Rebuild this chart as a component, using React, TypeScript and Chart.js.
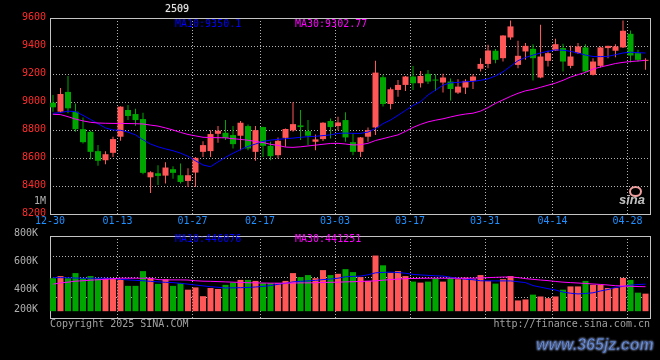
import React, { useEffect, useRef } from 'react';
import { Chart, registerables } from 'chart.js';

Chart.register(...registerables);

// ---------- data ----------
const dates = [
  '12-30', '12-31',
  '01-02', '01-03', '01-06', '01-07', '01-08', '01-09', '01-10', '01-13', '01-14', '01-15', '01-16', '01-17',
  '01-20', '01-21', '01-22', '01-23', '01-24', '01-27',
  '02-05', '02-06', '02-07', '02-10', '02-11', '02-12', '02-13', '02-14', '02-17', '02-18', '02-19', '02-20',
  '02-21', '02-24', '02-25', '02-26', '02-27', '02-28',
  '03-03', '03-04', '03-05', '03-06', '03-07', '03-10', '03-11', '03-12', '03-13', '03-14', '03-17', '03-18',
  '03-19', '03-20', '03-21', '03-24', '03-25', '03-26', '03-27', '03-28', '03-31',
  '04-01', '04-02', '04-03', '04-07', '04-08', '04-09', '04-10', '04-11', '04-14', '04-15', '04-16', '04-17',
  '04-18', '04-21', '04-22', '04-23', '04-24', '04-25', '04-28', '04-29', '04-30',
];

const axisDates = ['12-30', '01-13', '01-27', '02-17', '03-03', '03-17', '03-31', '04-14', '04-28'];

const opens = [
  8995, 8931, 9072, 8931, 8806, 8787, 8649, 8584, 8637, 8752,
  8943, 8914, 8878, 8462, 8491, 8474, 8520, 8477, 8436, 8496,
  8644, 8649, 8773, 8780, 8764, 8759, 8828, 8644, 8821, 8687,
  8620, 8744, 8797, 8833, 8792, 8716, 8735, 8864, 8828, 8871,
  8713, 8644, 8752, 8818, 9177, 8986, 9086, 9122, 9182, 9134,
  9201, 9158, 9139, 9146, 9067, 9103, 9151, 9237, 9272, 9366,
  9313, 9461, 9265, 9361, 9380, 9175, 9294, 9366, 9385, 9258,
  9349, 9390, 9194, 9258, 9385, 9366, 9390, 9487, 9349, 9294,
];
const highs = [
  9050, 9100, 9186, 8990, 8890, 8794, 8692, 8649, 8752, 8970,
  8978, 8952, 8924, 8505, 8548, 8570, 8541, 8560, 8527, 8608,
  8720, 8799, 8828, 8871, 8828, 8864, 8840, 8828, 8823, 8716,
  8747, 8811, 8998, 8943, 8871, 8768, 8855, 8883, 8895, 8926,
  8775, 8750, 8818, 9294, 9194, 9103, 9158, 9186, 9258, 9222,
  9229, 9198, 9201, 9167, 9163, 9163, 9198, 9313, 9409, 9378,
  9476, 9583, 9437, 9421, 9413, 9552, 9366, 9452, 9416, 9401,
  9421, 9413, 9313, 9397, 9401, 9413, 9583, 9511, 9373, 9313,
];
const lows = [
  8930, 8925, 8919, 8787, 8704, 8591, 8544, 8556, 8608, 8723,
  8871, 8830, 8484, 8350, 8408, 8417, 8451, 8417, 8393, 8393,
  8608, 8608, 8709, 8728, 8668, 8656, 8656, 8580, 8608, 8584,
  8596, 8680, 8787, 8728, 8692, 8656, 8721, 8740, 8799, 8716,
  8620, 8608, 8716, 8764, 8967, 8948, 9038, 9079, 9086, 9103,
  9129, 9079, 9067, 9010, 9057, 9057, 9093, 9217, 9241, 9277,
  9289, 9444, 9241, 9301, 9153, 9170, 9253, 9365, 9218, 9241,
  9342, 9213, 9189, 9246, 9313, 9320, 9385, 9282, 9289, 9230,
];
const closes = [
  8962, 9057, 8955, 8806, 8713, 8644, 8580, 8627, 8735, 8967,
  8900, 8871, 8494, 8498, 8472, 8532, 8494, 8429, 8477, 8601,
  8692, 8771, 8795, 8744, 8699, 8852, 8668, 8799, 8687, 8613,
  8723, 8807, 8842, 8821, 8759, 8733, 8852, 8821, 8854, 8747,
  8644, 8747, 8799, 9210, 8986, 9091, 9122, 9182, 9134, 9186,
  9146, 9153, 9175, 9093, 9110, 9151, 9182, 9272, 9368, 9301,
  9475, 9540, 9330, 9401, 9313, 9325, 9349, 9413, 9289, 9325,
  9397, 9218, 9289, 9390, 9401, 9397, 9509, 9332, 9301, 9301,
];

const ma10 = [
  8919, 8924, 8935, 8931, 8905, 8875, 8845, 8815, 8800, 8798,
  8785, 8765, 8730, 8700, 8680, 8665, 8652, 8635, 8612, 8580,
  8550, 8538, 8572, 8605, 8634, 8660, 8683, 8700, 8718, 8728,
  8733, 8738, 8742, 8748, 8752, 8755, 8760, 8765, 8776, 8778,
  8776, 8776, 8785, 8810, 8845, 8871, 8905, 8940, 8975, 9002,
  9050, 9085, 9120, 9137, 9140, 9145, 9147, 9155, 9165, 9186,
  9215, 9255, 9295, 9318, 9335, 9350, 9362, 9372, 9370, 9362,
  9350, 9335, 9325, 9324, 9326, 9338, 9350, 9356, 9352, 9350,
];
const ma30 = [
  8912, 8910, 8895, 8878, 8865, 8855, 8850, 8848, 8847, 8847,
  8846, 8845, 8843, 8835, 8828, 8815, 8800, 8783, 8768, 8758,
  8748, 8746, 8745, 8744, 8738, 8733, 8727, 8718, 8710, 8698,
  8690, 8678, 8676, 8680, 8686, 8692, 8698, 8704, 8705, 8700,
  8693, 8695, 8705, 8725, 8738, 8752, 8765, 8790, 8818, 8840,
  8858, 8870, 8880, 8893, 8905, 8914, 8920, 8935, 8960, 8990,
  9015, 9040, 9062, 9080, 9090, 9105, 9120, 9135, 9155, 9178,
  9195, 9212, 9235, 9250, 9262, 9275, 9283, 9289, 9293, 9297,
];

// volume in thousands
const volumesK = [
  488, 503, 488, 524, 488, 503, 488, 488, 488, 481,
  434, 434, 538, 488, 448, 481, 434, 453, 407, 423,
  361, 419, 412, 441, 457, 476, 476, 469, 453, 453,
  453, 469, 524, 496, 510, 488, 545, 510, 519, 552,
  531, 496, 469, 648, 579, 526, 538, 503, 464, 457,
  464, 488, 464, 492, 481, 492, 481, 510, 469, 450,
  481, 503, 331, 338, 372, 359, 347, 359, 407, 430,
  430, 469, 441, 441, 419, 419, 490, 476, 386, 379,
];
const volMa10K = [
  492, 492, 491, 489, 488, 488, 488, 488, 486, 480,
  476, 473, 470, 466, 462, 459, 457, 452, 446, 440,
  434, 428, 424, 419, 420, 421, 423, 426, 430, 436,
  445, 452, 462, 466, 469, 473, 478, 482, 488, 498,
  501, 503, 512, 526, 529, 531, 528, 523, 515, 511,
  508, 505, 503, 495, 487, 481, 477, 470, 469, 469,
  469, 469, 463, 457, 436, 425, 414, 405, 390, 382,
  377, 380, 385, 398, 408, 423, 430, 439, 443, 446,
];
const volMa30K = [
  446, 455, 460, 467, 470, 474, 477, 480, 484, 488,
  488, 488, 488, 488, 478, 476, 476, 476, 475, 470,
  467, 466, 464, 462, 460, 458, 456, 455, 454, 453,
  453, 453, 454, 455, 455, 456, 458, 459, 460, 462,
  463, 465, 467, 469, 474, 478, 482, 485, 486, 487,
  488, 488, 488, 488, 488, 488, 488, 490, 492, 494,
  496, 497, 492, 485, 480, 475, 471, 465, 460, 457,
  454, 451, 447, 444, 440, 435, 433, 431, 429, 428,
];

const priceTicks = [8200, 8400, 8600, 8800, 9000, 9200, 9400, 9600];
const volTicksK = [200, 400, 600, 800];
const volTickLabels = ['200K', '400K', '600K', '800K'];

const titleText = '2509';
const priceLegend = ['MA10:9350.1', 'MA30:9302.77'];
const volLegend = ['MA10:446076', 'MA30:441251'];
const unitText = '1M';
const copyrightText = 'Copyright 2025 SINA.COM';
const urlText = 'http://finance.sina.com.cn';
const watermarkText = 'www.365jz.com';

// ---------- styling ----------
const UP = '#ff5757';
const DOWN = '#00a600';
const MA10_COLOR = '#0000ff';
const MA30_COLOR = '#ff00ff';
const GRID = '#b4b4b4';
const FRAME = '#c4c4c4';
const MONO = '"DejaVu Sans Mono", monospace';

const X_MIN = 0;
const X_MAX = 80;
const BAR_POS = 0.4;
const P_MIN = 8200;
const P_MAX = 9600;
const V_MIN = 207;
const V_MAX = 786;
const V_BASE = 255;
const VOL_LABEL_FLOOR = 0.095;

const axisIdx = axisDates.map((d) => dates.indexOf(d));
const axisTickValues = axisIdx.map((i) => Math.min(i, X_MAX - 2));
const candleColors = closes.map((c, i) => (c >= opens[i] ? UP : DOWN));

const framePlugin = {
  id: 'frame',
  beforeDatasetsDraw(chart: any) {
    const { ctx, chartArea: a } = chart;
    ctx.save();
    ctx.strokeStyle = FRAME;
    ctx.lineWidth = 1;
    ctx.setLineDash([]);
    ctx.strokeRect(
      Math.round(a.left) + 0.5,
      Math.round(a.top) + 0.5,
      Math.round(a.right - a.left),
      Math.round(a.bottom - a.top)
    );
    ctx.restore();
  },
};

function xScale(showLabels: boolean) {
  return {
    type: 'linear',
    min: X_MIN,
    max: X_MAX,
    offset: false,
    afterBuildTicks: (s: any) => {
      s.ticks = axisTickValues.map((v) => ({ value: v }));
    },
    afterFit: (s: any) => {
      s.height = showLabels ? 14 : 0;
    },
    grid: {
      offset: false,
      drawTicks: false,
      lineWidth: 1,
      color: (ctx: any) =>
        axisTickValues[ctx.index] === axisIdx[ctx.index] ? GRID : 'rgba(0,0,0,0)',
    },
    border: { display: false, dash: [1, 2] },
    ticks: {
      display: showLabels,
      autoSkip: false,
      maxRotation: 0,
      minRotation: 0,
      padding: 1,
      color: '#1e90ff',
      font: { family: MONO, size: 10 },
      callback: (_v: any, i: number) => axisDates[i],
    },
  };
}

const lineDs = (values: number[], color: string, axis?: string) => ({
  type: 'line',
  data: values.map((v, i) => ({ x: i + BAR_POS, y: v })),
  borderColor: color,
  borderWidth: 1,
  pointRadius: 0,
  tension: 0,
  fill: false,
  order: 0,
  ...(axis ? { yAxisID: axis } : {}),
});

export default function App() {
  const priceRef = useRef<HTMLCanvasElement>(null);
  const volRef = useRef<HTMLCanvasElement>(null);

  useEffect(() => {
    const price = new Chart(priceRef.current as HTMLCanvasElement, {
      type: 'bar',
      data: {
        datasets: [
          {
            type: 'bar',
            data: dates.map((_, i) => ({ x: i + BAR_POS, y: [lows[i], highs[i]] })),
            backgroundColor: candleColors,
            barThickness: 1,
            grouped: false,
            inflateAmount: 0,
            order: 2,
          },
          {
            type: 'bar',
            data: dates.map((_, i) => ({ x: i + BAR_POS, y: [opens[i], closes[i]] })),
            backgroundColor: candleColors,
            barThickness: 6,
            minBarLength: 1,
            grouped: false,
            inflateAmount: 0,
            order: 1,
          },
          lineDs(ma30, MA30_COLOR),
          lineDs(ma10, MA10_COLOR),
        ] as any,
      },
      options: {
        responsive: false,
        animation: false,
        devicePixelRatio: 1,
        layout: { padding: { top: 18, right: 10, left: 0, bottom: 0 } },
        plugins: { legend: { display: false }, tooltip: { enabled: false } },
        scales: {
          x: xScale(true) as any,
          y: {
            type: 'linear',
            position: 'left',
            min: P_MIN,
            max: P_MAX,
            afterBuildTicks: (s: any) => {
              s.ticks = priceTicks.map((v) => ({ value: v }));
            },
            afterFit: (s: any) => {
              s.width = 50;
            },
            grid: { drawTicks: false, color: GRID, lineWidth: 1 },
            border: { display: false, dash: [1, 2] },
            ticks: {
              color: '#ff2c2c',
              font: { family: MONO, size: 10 },
              padding: 4,
              labelOffset: -1,
              autoSkip: false,
              callback: (v: any) => String(v),
            },
          } as any,
        },
      },
      plugins: [framePlugin],
    });

    const vol = new Chart(volRef.current as HTMLCanvasElement, {
      type: 'bar',
      data: {
        datasets: [
          {
            type: 'bar',
            data: dates.map((_, i) => ({ x: i + BAR_POS, y: volumesK[i] })),
            base: V_BASE,
            backgroundColor: candleColors,
            barThickness: 6,
            grouped: false,
            inflateAmount: 0,
            yAxisID: 'y',
            order: 1,
          },
          lineDs(volMa30K, MA30_COLOR, 'y'),
          lineDs(volMa10K, MA10_COLOR, 'y'),
        ] as any,
      },
      options: {
        responsive: false,
        animation: false,
        devicePixelRatio: 1,
        layout: { padding: { top: 8, right: 10, left: 0, bottom: 42 } },
        plugins: { legend: { display: false }, tooltip: { enabled: false } },
        scales: {
          x: xScale(false) as any,
          y: {
            type: 'linear',
            position: 'left',
            min: V_MIN,
            max: V_MAX,
            afterBuildTicks: (s: any) => {
              const floor = V_MIN + (V_MAX - V_MIN) * VOL_LABEL_FLOOR;
              s.ticks = volTicksK.map((v) => ({ value: Math.max(v, floor) }));
            },
            afterFit: (s: any) => {
              s.width = 50;
            },
            grid: { display: false },
            border: { display: false },
            ticks: {
              color: '#b0b0b0',
              font: { family: MONO, size: 10 },
              padding: 4,
              labelOffset: -1,
              autoSkip: false,
              callback: (_v: any, i: number) => volTickLabels[i],
            },
          } as any,
          yg: {
            type: 'linear',
            position: 'right',
            min: V_MIN,
            max: V_MAX,
            afterBuildTicks: (s: any) => {
              s.ticks = [0, 1, 2, 3, 4].map((k) => ({ value: V_MIN + ((V_MAX - V_MIN) * k) / 4 }));
            },
            afterFit: (s: any) => {
              s.width = 0;
            },
            grid: { drawTicks: false, color: GRID, lineWidth: 1 },
            border: { display: false, dash: [1, 2] },
            ticks: { display: false },
          } as any,
        },
      },
      plugins: [framePlugin],
    });

    return () => {
      price.destroy();
      vol.destroy();
    };
  }, []);

  const txt = (left: number, top: number, color: string): React.CSSProperties => ({
    position: 'absolute',
    left,
    top,
    color,
    font: `10px ${MONO}`,
    lineHeight: '10px',
    whiteSpace: 'pre',
  });

  return (
    <div
      style={{
        position: 'fixed',
        left: 0,
        top: 0,
        width: 660,
        height: 360,
        background: '#000',
        overflow: 'hidden',
      }}
    >
      <canvas
        ref={priceRef}
        width={660}
        height={228}
        style={{ position: 'absolute', left: 0, top: 0 }}
      />
      <canvas
        ref={volRef}
        width={660}
        height={134}
        style={{ position: 'absolute', left: 0, top: 226 }}
      />
      <span style={{ ...txt(165, 4, '#e6e6e6'), textShadow: '0 0 1px #808080' }}>{titleText}</span>
      <span style={txt(175, 19, MA10_COLOR)}>{priceLegend[0]}</span>
      <span style={txt(295, 19, MA30_COLOR)}>{priceLegend[1]}</span>
      <span style={txt(175, 234, MA10_COLOR)}>{volLegend[0]}</span>
      <span style={txt(295, 234, MA30_COLOR)}>{volLegend[1]}</span>
      <span style={txt(34, 196, '#b0b0b0')}>{unitText}</span>
      <span style={txt(50, 319, '#a0a0a0')}>{copyrightText}</span>
      <span style={{ ...txt(0, 319, '#a0a0a0'), left: 'auto', right: 10 }}>{urlText}</span>
      <div
        style={{
          position: 'absolute',
          left: 629,
          top: 186,
          width: 9,
          height: 7,
          border: '2px solid #f0a0a0',
          borderRadius: '50%',
        }}
      />
      <span
        style={{
          position: 'absolute',
          left: 619,
          top: 193,
          color: '#c0c0c0',
          font: 'italic bold 13px "Liberation Sans", Arial, sans-serif',
          lineHeight: '13px',
        }}
      >
        sina
      </span>
      <span
        style={{
          position: 'absolute',
          left: 536,
          top: 337,
          color: '#6a8ccc',
          font: 'italic bold 16px "Liberation Sans", Arial, sans-serif',
          lineHeight: '16px',
          whiteSpace: 'pre',
          WebkitTextStroke: '0.5px #1c2c5a',
          textShadow: '0 0 2px #d8e2ff',
        }}
      >
        {watermarkText}
      </span>
    </div>
  );
}
